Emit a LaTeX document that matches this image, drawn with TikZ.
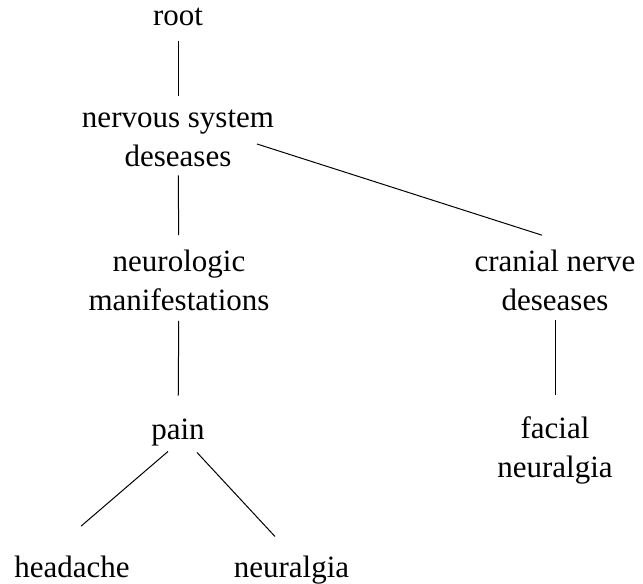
\documentclass[tikz,border=0pt]{standalone}
\usepackage{fontspec}
\setmainfont{Liberation Serif}
\tikzset{
  term/.style = {align = center, inner sep = 0pt, font = \fontsize{15.5}{19.5}\selectfont},
  branch/.style = {line width = 0.5pt},
}
\begin{document}
\begin{tikzpicture}[x = 0.5pt, y = -0.5pt]
  \useasboundingbox (0,0) rectangle (643,584);
  % nodes
  \node [term] (root) at (178,17) {root};
  \node [term] (nsd) at (178,138.5) {nervous system\\deseases};
  \node [term] (nm) at (179,280) {neurologic\\manifestations};
  \node [term] (cnd) at (555,280) {cranial nerve\\deseases};
  \node [term] (pain) at (178,432.5) {pain};
  \node [term] (fn) at (555,450) {facial\\neuralgia};
  \node [term] (hd) at (72,566.5) {headache};
  \node [term] (ng) at (291.5,570) {neuralgia};
  % edges
  \draw [branch, shorten <= 7.5pt, shorten >= 7pt] (root) -- (nsd);
  \draw [branch, shorten <= 4pt, shorten >= 7pt] (nsd) -- (nm);
  \draw [branch] ([shift = {(79,5.5)}]nsd.center) -- ([shift = {(-13,-14)}]cnd.north);
  \draw [branch, shorten <= 5pt, shorten >= 11.5pt] (nm) -- (pain);
  \draw [branch, shorten <= 4.5pt, shorten >= 10.5pt] (cnd) -- (fn);
  \draw [branch] ([shift = {(-10,5)}]pain.south) -- ([shift = {(9,-29)}]hd.north);
  \draw [branch] ([shift = {(19,6)}]pain.south) -- ([shift = {(-16.5,-19)}]ng.north);
\end{tikzpicture}
\end{document}
